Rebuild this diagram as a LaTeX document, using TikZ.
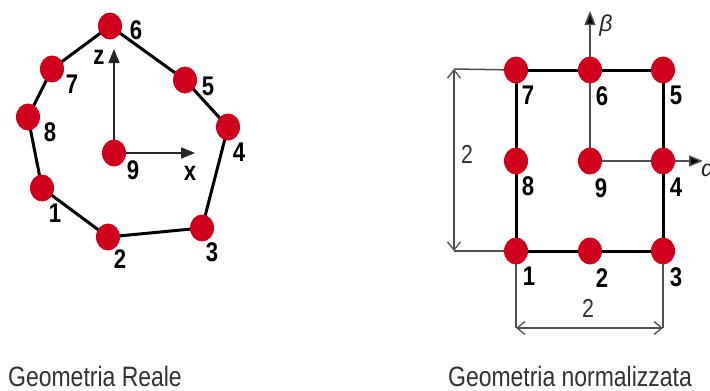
\documentclass[tikz,border=0pt]{standalone}
\usepackage{fontspec}
\setmainfont{Liberation Sans}
\newfontfamily\narrowfont[FakeStretch=0.82]{Liberation Sans}
\usetikzlibrary{arrows.meta,backgrounds,shapes.geometric}
\definecolor{dotred}{RGB}{208,0,28}
\definecolor{thingray}{RGB}{80,80,80}
\definecolor{captiongray}{RGB}{50,50,50}
\tikzset{
  dot/.style={ellipse,fill=dotred,minimum width=24pt,minimum height=27pt,inner sep=0pt},
  num/.style={font=\narrowfont\bfseries\fontsize{27}{27}\selectfont,text=black,inner sep=0pt},
  dimlab/.style={font=\narrowfont\fontsize{26}{26}\selectfont,text=captiongray,inner sep=0pt},
  caption/.style={font=\narrowfont\fontsize{28}{28}\selectfont,text=captiongray,inner sep=0pt},
  edge/.style={line width=3pt,black},
  thin/.style={line width=1.5pt,thingray},
  axis/.style={line width=1.5pt,black!85,-{Triangle[length=14pt,width=11pt]}},
  gaxis/.style={line width=1.5pt,thingray,-{Triangle[length=14pt,width=11pt,fill=black]}},
  dim/.style={line width=1.3pt,thingray,{Straight Barb[length=8pt,width=13pt]}-{Straight Barb[length=8pt,width=13pt]}}
}
\begin{document}
\begin{tikzpicture}[x=1pt,y=-1pt]
\useasboundingbox (0,0) rectangle (710,391);
\clip (0,0) rectangle (710,391);
% ---------- left: real geometry ----------
\node[dot] (L6) at (110,26) {};
\node[dot] (L7) at (52,69) {};
\node[dot] (L8) at (28,117) {};
\node[dot] (L1) at (42,188) {};
\node[dot] (L2) at (108,237) {};
\node[dot] (L3) at (202,228) {};
\node[dot] (L4) at (228,127) {};
\node[dot] (L5) at (185,80) {};
\node[dot] (L9) at (114,153) {};
\coordinate (Lz) at (114,49);
\coordinate (Lx) at (195,153);
\begin{scope}[on background layer]
  \fill[white] (0,0) rectangle (710,391);
  \draw[edge] (L6.center) -- (L7.center) -- (L8.center) -- (L1.center) -- (L2.center)
     -- (L3.center) -- (L4.center) -- (L5.center) -- (L6.center);
  \draw[axis] (L9.center) -- (Lz);
  \draw[axis] (L9.center) -- (Lx);
\end{scope}
\node[num] (l6) at (136,30) {6};
\node[num] (l7) at (72,84) {7};
\node[num] (l8) at (50,132) {8};
\node[num] (l9) at (133,170) {9};
\node[num] (l1) at (55,213) {1};
\node[num] (l2) at (120,259) {2};
\node[num] (l3) at (212,252) {3};
\node[num] (l4) at (239,152) {4};
\node[num] (l5) at (208,86) {5};
\node[num] (lz) at (99,57) {z};
\node[num] (lx) at (190,173) {x};
% ---------- right: normalized geometry ----------
\node[dot] (R7) at (516,70) {};
\node[dot] (R6) at (590,70) {};
\node[dot] (R5) at (663,70) {};
\node[dot] (R8) at (516,161) {};
\node[dot] (R9) at (590,161) {};
\node[dot] (R4) at (663,161) {};
\node[dot] (R1) at (516,251) {};
\node[dot] (R2) at (590,251) {};
\node[dot] (R3) at (663,251) {};
\coordinate (Rb) at (590,11);
\coordinate (Ra) at (703,161);
\coordinate (DT) at (454,69);
\coordinate (DB) at (454,251);
\coordinate (DL) at (516,328);
\coordinate (DR) at (663,328);
\begin{scope}[on background layer]
  \draw[edge] (R7.center) -- (R5.center) -- (R3.center) -- (R1.center) -- cycle;
  \draw[gaxis] (R6.center) -- (Rb);
  \draw[thin] (R6.center) -- (R9.center);
  \draw[gaxis] (R9.center) -- (Ra);
  \draw[thin] (R7.center) -- (DT);
  \draw[thin] (R1.center) -- (DB);
  \draw[dim] (DT) -- (DB);
  \draw[thin] (R1.center) -- (DL);
  \draw[thin] (R3.center) -- (DR);
  \draw[dim] (DL) -- (DR);
\end{scope}
\node[num] (r7) at (528,95) {7};
\node[num] (r6) at (602,96) {6};
\node[num] (r5) at (676,95) {5};
\node[num] (r8) at (528,186) {8};
\node[num] (r9) at (601,188) {9};
\node[num] (r4) at (676,187) {4};
\node[num] (r1) at (529,276) {1};
\node[num] (r2) at (602,278) {2};
\node[num] (r3) at (676,277) {3};
\node[font=\itshape\fontsize{23}{23}\selectfont,text=black!85,inner sep=0pt] (rb) at (606,26) {β};
\node[font=\itshape\fontsize{23}{23}\selectfont,text=black!85,inner sep=0pt,anchor=west] (ra) at (701,170) {α};
\node[dimlab] (dv) at (467,154) {2};
\node[dimlab] (dh) at (588,308) {2};
% ---------- captions ----------
\node[caption,anchor=base] (c1) at (95,386) {Geometria Reale};
\node[caption,anchor=base] (c2) at (570,386) {Geometria normalizzata};
\end{tikzpicture}
\end{document}
